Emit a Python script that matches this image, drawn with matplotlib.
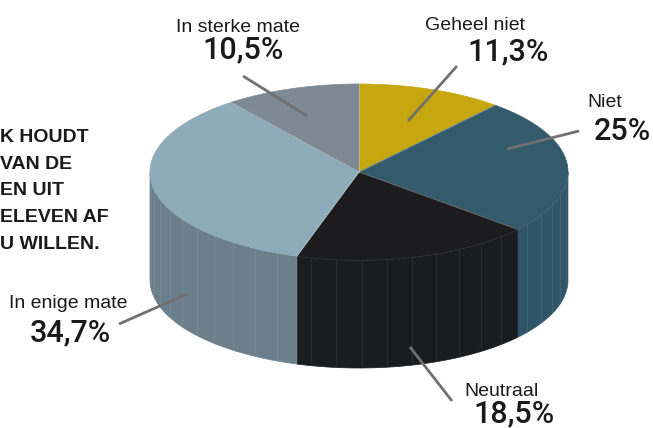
import numpy as np
import matplotlib
matplotlib.use("Agg")
import matplotlib.pyplot as plt
from matplotlib.patches import Polygon

plt.rcParams['font.family'] = ['Liberation Sans', 'DejaVu Sans']

# ---- data ----
categories = ["Geheel niet", "Niet", "Neutraal", "In enige mate", "In sterke mate"]
values = [11.3, 25.0, 18.5, 34.7, 10.5]
value_labels = ["11,3%", "25%", "18,5%", "34,7%", "10,5%"]
top_colors = ["#C6A70F", "#345B6C", "#1C1C1E", "#8DABB8", "#7D8994"]
side_colors = ["#A88E0C", "#2F5668", "#1B1C1E", "#6C808C", "#6A7580"]
side_text = ["K HOUDT", "VAN DE", "EN UIT", "ELEVEN AF", "U WILLEN."]

# ---- layout ----
W, H = 653, 428
cx, cy, rx, ry, depth = 359, 172, 209, 88, 108
label_pos = {  # (name xy, value xy) in pixels, centre anchored
    "Geheel niet": ((475, 25), (508, 52)),
    "Niet": ((605, 102), (622, 131)),
    "Neutraal": ((501, 391), (514, 414)),
    "In enige mate": ((68, 304), (70, 333)),
    "In sterke mate": ((238, 27), (243, 50)),
}
leader = {
    "Geheel niet": ((457, 66), (408, 121)),
    "Niet": ((579, 131), (507, 149)),
    "Neutraal": ((452, 401), (410, 347)),
    "In enige mate": ((119, 324), (187, 294)),
    "In sterke mate": ((243, 76), (307, 116)),
}

fig = plt.figure(figsize=(W / 100, H / 100), dpi=100)
ax = fig.add_axes([0, 0, 1, 1])
ax.set_xlim(0, W)
ax.set_ylim(H, 0)
ax.axis("off")


def rim(t, dy=0.0):
    t = np.radians(t)
    return np.column_stack([cx + rx * np.cos(t), cy - ry * np.sin(t) + dy])


# slice boundaries (degrees, start at 12 o'clock, clockwise)
fr = np.array(values) / sum(values)
bounds = 90 - 360 * np.concatenate([[0], np.cumsum(fr)])

# side walls (front half: angles between -180 and 0)
for i in range(len(values)):
    a_hi, a_lo = bounds[i], bounds[i + 1]
    lo, hi = max(a_lo, -180), min(a_hi, 0)
    if hi <= lo:
        continue
    t = np.linspace(lo, hi, 120)
    top = rim(t)
    bot = rim(t[::-1], depth)
    ax.add_patch(Polygon(np.vstack([top, bot]), closed=True, fc=side_colors[i],
                         ec=side_colors[i], lw=0.5, zorder=1))
    # faint render stripes
    for ts in np.arange(lo + 4, hi - 1, 7.0):
        p = rim([ts])[0]
        ax.plot([p[0], p[0]], [p[1], p[1] + depth * 0.98], color="white",
                alpha=0.08, lw=0.8, zorder=1.5)
    # rim highlight
    ax.plot(top[:, 0], top[:, 1], color="white", alpha=0.35, lw=0.6, zorder=1.6)

# top faces
for i in range(len(values)):
    t = np.linspace(bounds[i], bounds[i + 1], 200)
    pts = np.vstack([[cx, cy], rim(t)])
    ax.add_patch(Polygon(pts, closed=True, fc=top_colors[i], ec=top_colors[i],
                         lw=0.5, zorder=2))
for b in bounds[:-1]:
    p = rim([b])[0]
    ax.plot([cx, p[0]], [cy, p[1]], color="white", alpha=0.35, lw=0.6, zorder=2.5)

# labels
for name, val in zip(categories, value_labels):
    (nx, ny), (vx, vy) = label_pos[name]
    ax.text(nx, ny, name, fontsize=14, color="#1a1a1a", ha="center", va="center", zorder=5)
    ax.text(vx, vy, val, fontsize=22, color="#1a1a1a", ha="center", va="center",
            family=["Roboto", "Liberation Sans"], fontweight="medium", zorder=5)
    (x1, y1), (x2, y2) = leader[name]
    ax.plot([x1, x2], [y1, y2], color="#707070", lw=2, solid_capstyle="butt", zorder=4)

# side text (starts at the left edge)
for k, s in enumerate(side_text):
    ax.text(0, 142 + k * 26.7, s, fontsize=14, fontweight="bold", color="#1a1a1a",
            ha="left", va="baseline", zorder=5)

fig.savefig("out.png", dpi=100)
